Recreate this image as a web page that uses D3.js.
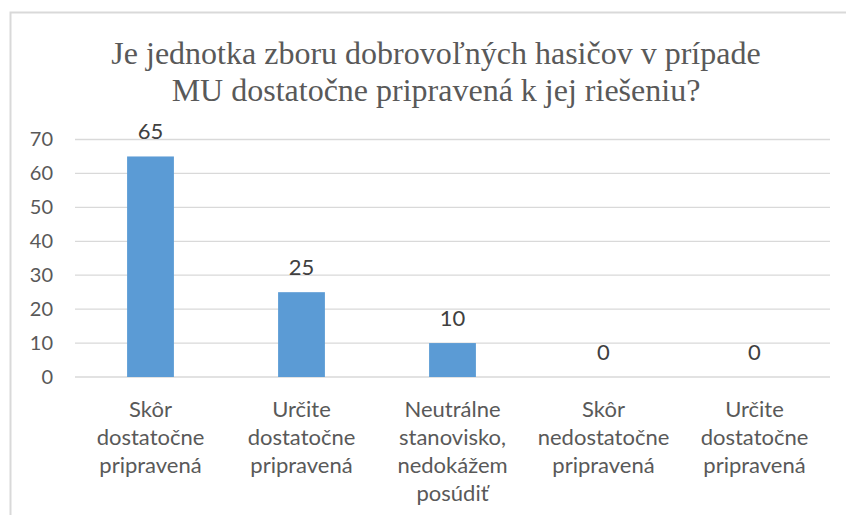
<!DOCTYPE html>
<html>
<head>
<meta charset="utf-8">
<script src="https://cdn.jsdelivr.net/npm/d3@7"></script>
<style>
  body { margin: 0; background: #fff; }
</style>
</head>
<body>
<script>
// chart data
var titleLines = ["Je jednotka zboru dobrovoľných hasičov v prípade", "MU dostatočne pripravená k jej riešeniu?"];
var categories = [
  ["Skôr", "dostatočne", "pripravená"],
  ["Určite", "dostatočne", "pripravená"],
  ["Neutrálne", "stanovisko,", "nedokážem", "posúdiť"],
  ["Skôr", "nedostatočne", "pripravená"],
  ["Určite", "dostatočne", "pripravená"]
];
var values = [65, 25, 10, 0, 0];
var yTicks = [0, 10, 20, 30, 40, 50, 60, 70];

var W = 846, H = 515;
var svg = d3.select("body").append("svg")
    .attr("width", W)
    .attr("height", H);

// outer chart border (only left and top visible in the crop)
svg.append("path")
    .attr("d", "M10.5,515 L10.5,12.5 L846,12.5")
    .attr("fill", "none")
    .attr("stroke", "#d9d9d9")
    .attr("stroke-width", 2);

// title
svg.append("g").selectAll("text")
    .data(titleLines)
  .enter().append("text")
    .attr("x", 436)
    .attr("y", function(d, i) { return 64 + i * 37; })
    .attr("text-anchor", "middle")
    .style("font-family", "'Liberation Serif', 'Times New Roman', serif")
    .style("font-size", "32px")
    .style("fill", "#595959")
    .text(function(d) { return d; });

var x = d3.scaleBand()
    .domain(d3.range(categories.length))
    .range([75, 830])
    .paddingInner(0.69)
    .paddingOuter(0.345);

var xc = d3.scaleBand()
    .domain(d3.range(categories.length))
    .range([75, 830]);

var y = d3.scaleLinear()
    .domain([0, 70])
    .range([377, 139.5]);

// gridlines
svg.append("g").selectAll("line")
    .data(yTicks)
  .enter().append("line")
    .attr("x1", 75)
    .attr("x2", 830)
    .attr("y1", function(d) { return y(d); })
    .attr("y2", function(d) { return y(d); })
    .attr("stroke", "#d9d9d9")
    .attr("stroke-width", 1.3);

// y axis labels
var yAxis = d3.axisLeft(y).tickValues(yTicks).tickSize(0).tickPadding(0);
var yg = svg.append("g")
    .attr("transform", "translate(53,0)")
    .call(yAxis);
yg.select(".domain").remove();
yg.selectAll("text")
    .style("font-family", "Lato, 'Open Sans', sans-serif")
    .style("font-size", "20px")
    .style("fill", "#595959");

// bars
svg.append("g").selectAll("rect")
    .data(values)
  .enter().append("rect")
    .attr("x", function(d, i) { return x(i); })
    .attr("width", x.bandwidth())
    .attr("y", function(d) { return y(d); })
    .attr("height", function(d) { return y(0) - y(d); })
    .attr("fill", "#5b9bd5");

// data labels
svg.append("g").selectAll("text")
    .data(values)
  .enter().append("text")
    .attr("x", function(d, i) { return xc(i) + xc.bandwidth() / 2; })
    .attr("y", function(d) { return y(d) - 17; })
    .attr("text-anchor", "middle")
    .style("font-family", "Lato, 'Open Sans', sans-serif")
    .style("font-size", "22px")
    .style("fill", "#404040")
    .text(function(d) { return d; });

// category labels
var cat = svg.append("g").selectAll("text")
    .data(categories)
  .enter().append("text")
    .attr("text-anchor", "middle")
    .style("font-family", "Lato, 'Open Sans', sans-serif")
    .style("font-size", "22px")
    .style("fill", "#595959");
cat.selectAll("tspan")
    .data(function(d, i) { return d.map(function(t) { return { t: t, i: i }; }); })
  .enter().append("tspan")
    .attr("x", function(d) { return xc(d.i) + xc.bandwidth() / 2; })
    .attr("y", function(d, j) { return 417 + j * 28; })
    .text(function(d) { return d.t; });
</script>
</body>
</html>
